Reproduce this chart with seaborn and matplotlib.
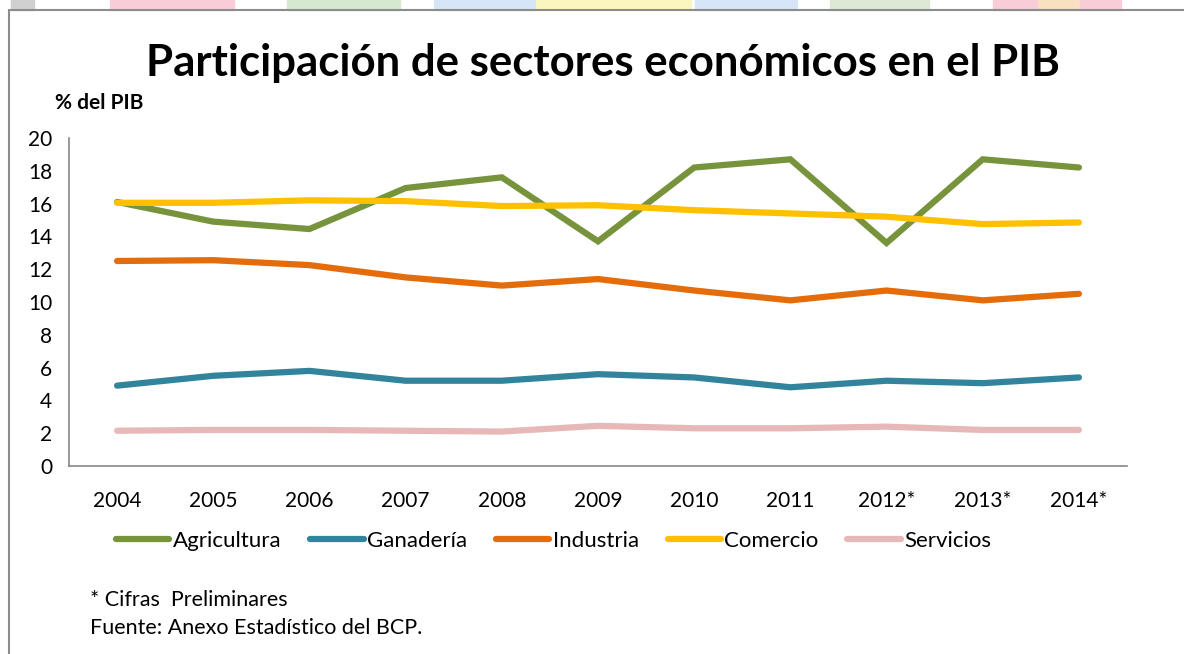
import matplotlib
matplotlib.use("Agg")
import matplotlib.pyplot as plt
from matplotlib.patches import Rectangle
from matplotlib.lines import Line2D
import seaborn as sns
import pandas as pd

years = ["2004", "2005", "2006", "2007", "2008", "2009", "2010", "2011", "2012*", "2013*", "2014*"]
agricultura = [16.1, 14.9, 14.45, 16.95, 17.6, 13.7, 18.2, 18.7, 13.6, 18.7, 18.2]
ganaderia = [4.9, 5.5, 5.8, 5.2, 5.2, 5.6, 5.4, 4.8, 5.2, 5.05, 5.4]
industria = [12.5, 12.55, 12.25, 11.5, 11.0, 11.4, 10.7, 10.1, 10.7, 10.1, 10.5]
comercio = [16.05, 16.05, 16.2, 16.15, 15.85, 15.9, 15.6, 15.4, 15.2, 14.75, 14.85]
servicios = [2.15, 2.2, 2.2, 2.15, 2.1, 2.45, 2.3, 2.3, 2.4, 2.2, 2.2]

sectors = ["Agricultura", "Ganadería", "Industria", "Comercio", "Servicios"]
series = [agricultura, ganaderia, industria, comercio, servicios]
colors = ["#77933C", "#31849B", "#E46C0A", "#FFC000", "#E6B9B8"]

rows = []
for name, vals in zip(sectors, series):
    for i, v in enumerate(vals):
        rows.append({"pos": i, "sector": name, "valor": v})
df = pd.DataFrame(rows)

sns.set_theme(style="white")
plt.rcParams["font.family"] = ["Lato", "DejaVu Sans"]
plt.rcParams["text.color"] = "black"
plt.rcParams["xtick.color"] = "black"
plt.rcParams["ytick.color"] = "black"

fig = plt.figure(figsize=(11.84, 6.54), dpi=100)
W, H = 1184, 654

def fx(px):
    return px / W

def fy(py):
    return 1 - py / H

# pale background strip at the top (slide image)
strip = [(11, 34, "#d0d0d0"), (110, 234, "#f8cdd8"), (287, 400, "#d5e8d0"),
         (434, 536, "#d6e6f8"), (536, 691, "#fbf5c0"), (695, 797, "#d6e6f8"),
         (830, 929, "#dde8d5"), (993, 1038, "#f8cdd8"), (1038, 1080, "#f8e0c0"),
         (1080, 1121, "#f8cdd8")]
for x0, x1, c in strip:
    fig.patches.append(Rectangle((fx(x0), fy(10)), fx(x1 - x0), 10 / H,
                                 transform=fig.transFigure, color=c, zorder=0))
# frame lines
fig.add_artist(Line2D([fx(9), fx(9)], [fy(10), 0], transform=fig.transFigure,
                      color="#8c8c8c", lw=1.5))
fig.add_artist(Line2D([fx(9), 1], [fy(10), fy(10)], transform=fig.transFigure,
                      color="#8c8c8c", lw=1.5))

ax = fig.add_axes([fx(69), fy(466), fx(1127 - 69), (466 - 138) / H])
sns.lineplot(data=df, x="pos", y="valor", hue="sector", hue_order=sectors,
             palette=colors, linewidth=4.5, ax=ax, legend=False,
             solid_capstyle="round", solid_joinstyle="miter")

ax.set_xlim(-0.5, len(years) - 0.5)
ax.set_ylim(0, 20)
ax.set_yticks(range(0, 21, 2))
ax.set_xticks(range(len(years)))
ax.set_xticklabels(years)
ax.set_xticks([i - 0.5 for i in range(len(years) + 1)], minor=True)
ax.tick_params(axis="x", which="major", length=0, pad=18, labelsize=15, labelcolor="black")
ax.tick_params(axis="x", which="minor", length=6, width=1.2, color="#868686", direction="out")
ax.tick_params(axis="y", length=6, width=1.2, color="#868686", direction="out",
               labelsize=15, labelcolor="black", pad=6)
ax.set_xlabel("")
ax.set_ylabel("")
for s in ["top", "right"]:
    ax.spines[s].set_visible(False)
for s in ["left", "bottom"]:
    ax.spines[s].set_color("#868686")
    ax.spines[s].set_linewidth(1.2)
ax.grid(False)

fig.text(fx(603), fy(63), "Participación de sectores económicos en el PIB",
         ha="center", va="center", fontsize=31.5, fontweight="bold", color="black")
fig.text(fx(55), fy(103), "% del PIB", ha="left", va="center", fontsize=15,
         fontweight="bold", color="black")

handles = [Line2D([0], [0], color=c, lw=4.5, solid_capstyle="round") for c in colors]
fig.legend(handles, sectors, loc="center left", bbox_to_anchor=(fx(96), fy(541)),
           ncol=5, frameon=False, fontsize=16, handlelength=2.4, handletextpad=0.15,
           columnspacing=1.3, labelcolor="black")

fig.text(fx(90), fy(600), "* Cifras  Preliminares", ha="left", va="center", fontsize=15.5)
fig.text(fx(90), fy(628), "Fuente: Anexo Estadístico del BCP.", ha="left", va="center",
         fontsize=15.5)

fig.savefig("out.png", dpi=100)
